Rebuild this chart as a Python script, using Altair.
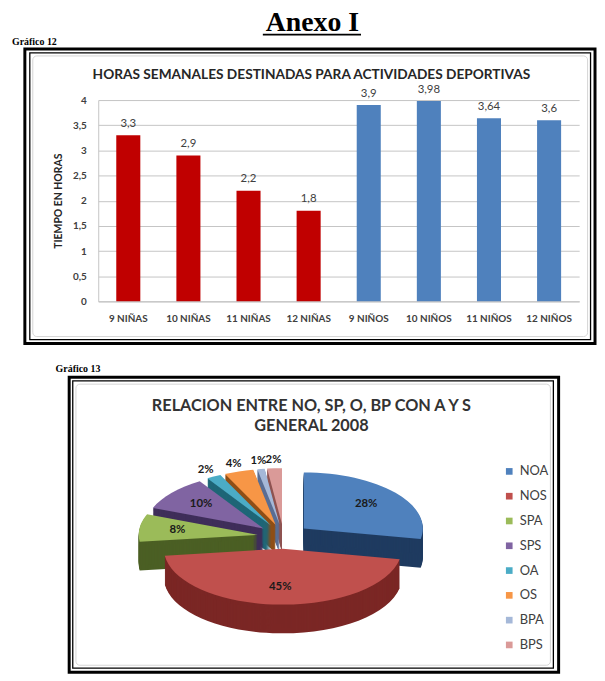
import altair as alt
import pandas as pd

# ---------------- data ----------------
bar_categories = ["9 NIÑAS", "10 NIÑAS", "11 NIÑAS", "12 NIÑAS",
                  "9 NIÑOS", "10 NIÑOS", "11 NIÑOS", "12 NIÑOS"]
bar_groups = ["NIÑAS", "NIÑAS", "NIÑAS", "NIÑAS", "NIÑOS", "NIÑOS", "NIÑOS", "NIÑOS"]
bar_hours = [3.3, 2.9, 2.2, 1.8, 3.9, 3.98, 3.64, 3.6]
y_ticks = [0, 0.5, 1, 1.5, 2, 2.5, 3, 3.5, 4]

pie_categories = ["NOA", "NOS", "SPA", "SPS", "OA", "OS", "BPA", "BPS"]
pie_percent = [28, 45, 8, 10, 2, 4, 1, 2]

# ---------------- styles ----------------
bar_colors = ["#C00000", "#4F81BD"]
pie_top_colors = ["#4F81BD", "#C0504D", "#9BBB59", "#8064A2",
                  "#4BACC6", "#F79646", "#A5B8D8", "#DA9A98"]
pie_side_colors = ["#1F3B60", "#7B2725", "#4B5F24", "#3F2E5A",
                   "#1F6677", "#8F4F17", "#5A6E94", "#8F5553"]

FONT = "Lato"
SERIF = "Liberation Serif"

# layout: screen position of the bar plot origin
OX, OY = 99, 98
W, H = 485, 203

# pie geometry (pixels)
PCX, PCY = 286 - OX, 538 - OY
R, r, D, EXP = 120, 56.4, 29, 0.22

dummy = pd.DataFrame({"a": [0]})


def rect(x1, y1, x2, y2, sw, color="black", radius=0):
    return alt.Chart(dummy).mark_rect(
        fill="transparent", stroke=color, strokeWidth=sw, cornerRadius=radius
    ).encode(x=alt.value(x1 - OX), x2=alt.value(x2 - OX),
             y=alt.value(y1 - OY), y2=alt.value(y2 - OY))


def text(txt, X, Y, size, font=FONT, weight="bold", color="#000000", align="center"):
    return alt.Chart(dummy).mark_text(
        text=txt, font=font, fontSize=size, fontWeight=weight, color=color,
        align=align, baseline="alphabetic", lineHeight=20
    ).encode(x=alt.value(X - OX), y=alt.value(Y - OY))


# ---------------- decorations ----------------
deco = [
    rect(25, 46.5, 600, 343.5, 3),
    rect(30, 50.5, 595.5, 339.5, 1.3),
    rect(33, 53.5, 592.5, 336.5, 1, color="#d4d4d4", radius=4),
    rect(69.7, 377.5, 563.3, 675, 3),
    rect(73.3, 381.2, 558, 670.8, 1.3),
    rect(76.5, 384.5, 555, 668, 1, color="#d4d4d4", radius=4),
    text("Anexo I", 315, 28, 28, font=SERIF),
    alt.Chart(dummy).mark_rule(color="black", strokeWidth=2).encode(
        x=alt.value(265 - OX), x2=alt.value(364 - OX), y=alt.value(32 - OY)),
    text("Gráfico 12", 12, 42, 10, font=SERIF, align="left"),
    text("Gráfico 13", 56, 372, 10, font=SERIF, align="left"),
    text("HORAS SEMANALES DESTINADAS PARA ACTIVIDADES DEPORTIVAS", 314, 77, 13.8,
         color="#262626"),
    text(["RELACION ENTRE NO, SP, O, BP CON A Y S", "GENERAL 2008"], 314, 411.5, 16.4,
         color="#333333"),
]

# ---------------- bar chart ----------------
bar_df = pd.DataFrame({"cat": bar_categories, "group": bar_groups, "hours": bar_hours})

xenc = alt.X("cat:N", sort=bar_categories,
             scale=alt.Scale(paddingInner=0.6, paddingOuter=0.3),
             axis=alt.Axis(title=None, labelAngle=0, labelFont=FONT, labelFontSize=10,
                           labelFontWeight="bold", labelColor="#404040", ticks=False,
                           domainColor="#bfbfbf", labelPadding=12, grid=False))
yenc = alt.Y("hours:Q", scale=alt.Scale(domain=[0, 4], nice=False),
             axis=alt.Axis(values=y_ticks,
                           labelExpr="replace(toString(datum.value), '.', ',')",
                           labelOverlap=False,
                           title="TIEMPO EN HORAS", titleFont=FONT, titleFontSize=10.5,
                           titleFontWeight="bold", titleColor="#262626", titlePadding=9,
                           labelFont=FONT, labelFontSize=10, labelFontWeight="bold",
                           labelColor="#404040", labelPadding=12, ticks=False,
                           grid=True, gridColor="#c4c4c4", domainColor="#c4c4c4"))

bars = alt.Chart(bar_df).mark_bar().encode(
    x=xenc, y=yenc,
    color=alt.Color("group:N", scale=alt.Scale(domain=["NIÑAS", "NIÑOS"], range=bar_colors),
                    legend=None))
bar_labels = alt.Chart(bar_df).transform_calculate(
    lab="replace(toString(datum.hours), '.', ',')"
).mark_text(dy=-8.5, baseline="alphabetic", font=FONT, fontSize=11.5, color="#404040").encode(
    x=xenc, y=yenc, text="lab:N")
bar_layer = alt.layer(bars, bar_labels)

# ---------------- pie chart ----------------
pie_df = pd.DataFrame({"cat": pie_categories, "pct": pie_percent,
                       "idx": list(range(len(pie_categories)))})

px_scale = alt.Scale(domain=[-1000, 1000], range=[PCX - 1000, PCX + 1000], nice=False, zero=False)
py_scale = alt.Scale(domain=[-1000, 1000], range=[PCY - 1000, PCY + 1000], nice=False, zero=False)

path_expr = (
    "'M0,0L' + (round({R}*sin(datum.a0)*100)/100) + ',' + (round({nr}*cos(datum.a0)*100)/100)"
    " + 'A{R},{r} 0 ' + (datum.pct/datum.total > 0.5 ? '1' : '0') + ' 1 '"
    " + (round({R}*sin(datum.a1)*100)/100) + ',' + (round({nr}*cos(datum.a1)*100)/100) + 'Z'"
).format(R=R, r=r, nr=-r)

base = alt.Chart(pie_df).transform_joinaggregate(
    total="sum(pct)"
).transform_window(
    cum="sum(pct)", sort=[alt.SortField("idx")], frame=[None, 0]
).transform_calculate(
    a0="2*PI*(datum.cum - datum.pct)/datum.total",
    a1="2*PI*datum.cum/datum.total",
).transform_calculate(
    mid="(datum.a0 + datum.a1)/2",
).transform_calculate(
    ox=f"{EXP * R}*sin(datum.mid)",
    oy=f"{-EXP * r}*cos(datum.mid)",
    depth="-cos(datum.mid)",
    path=path_expr,
)

sides = base.transform_calculate(
    t=f"sequence(1, {D + 1})"
).transform_flatten(["t"]).transform_calculate(
    yy="datum.oy + datum.t",
    key="datum.depth*100000 - datum.t",
).mark_point(filled=True, opacity=1, size=4, strokeWidth=0).encode(
    x=alt.X("ox:Q", scale=px_scale, axis=None),
    y=alt.Y("yy:Q", scale=py_scale, axis=None),
    shape=alt.Shape("path:N", scale=None),
    fill=alt.Fill("cat:N", scale=alt.Scale(domain=pie_categories, range=pie_side_colors),
                  legend=None),
    order=alt.Order("key:Q"),
)

tops = base.mark_point(filled=True, opacity=1, size=4, strokeWidth=0).encode(
    x=alt.X("ox:Q", scale=px_scale, axis=None),
    y=alt.Y("oy:Q", scale=py_scale, axis=None),
    shape=alt.Shape("path:N", scale=None),
    color=alt.Color("cat:N", scale=alt.Scale(domain=pie_categories, range=pie_top_colors),
                    sort=pie_categories,
                    legend=alt.Legend(orient="none", legendX=507 - OX, legendY=466 - OY,
                                      title=None, symbolType="square", symbolSize=45,
                                      symbolStrokeWidth=0, labelFont=FONT, labelFontSize=13,
                                      labelColor="#404040", rowPadding=11, labelOffset=4,
                                      padding=0)),
    order=alt.Order("depth:Q"),
)

pct_labels = base.transform_calculate(
    k="datum.pct < 5 ? 1.14 : 0.68",
).transform_calculate(
    lx=f"datum.ox + datum.k*{R}*sin(datum.mid)",
    ly=f"datum.oy - datum.k*{r}*cos(datum.mid)",
    lab="datum.pct + '%'",
).mark_text(font=FONT, fontSize=11.5, fontWeight="bold", color="#1a1a1a").encode(
    x=alt.X("lx:Q", scale=px_scale, axis=None),
    y=alt.Y("ly:Q", scale=py_scale, axis=None),
    text="lab:N",
)

pie_layer = alt.layer(sides, tops, pct_labels)

chart = alt.layer(*deco, bar_layer, pie_layer).resolve_scale(
    x="independent", y="independent", color="independent"
).properties(
    width=W, height=H,
    autosize=alt.AutoSizeParams(type="none"),
    padding={"left": OX - 8, "top": OY - 8, "right": 602 - OX - W, "bottom": 678 - OY - H},
    background="white",
).configure_view(strokeWidth=0)

chart.save("out.html", embed_options={"renderer": "svg", "actions": False})
